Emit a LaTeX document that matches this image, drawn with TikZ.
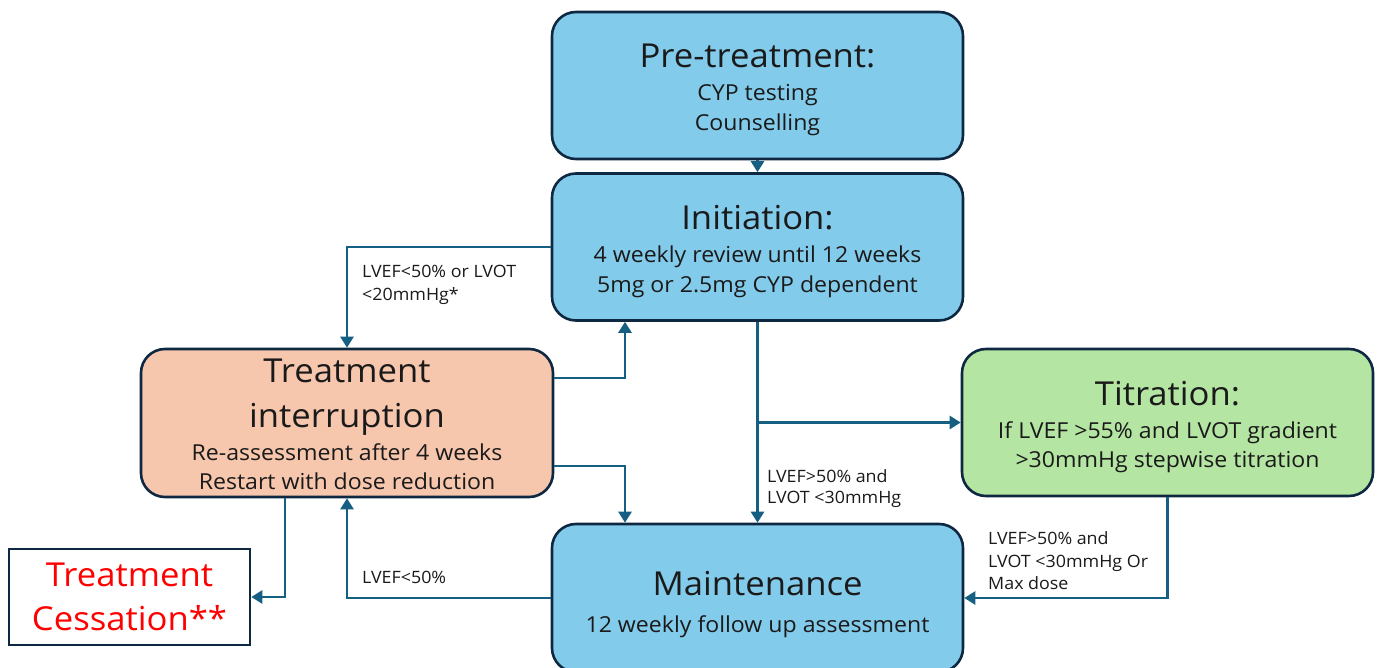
\documentclass[tikz,border=0pt]{standalone}
\usepackage{fontspec}
\setmainfont[FakeStretch=1.05]{Open Sans}
\usetikzlibrary{arrows.meta,calc}
\definecolor{bluefill}{HTML}{83CBEB}
\definecolor{orangefill}{HTML}{F6C6AD}
\definecolor{greenfill}{HTML}{B4E5A2}
\definecolor{boxline}{HTML}{0E2841}
\definecolor{arrowc}{HTML}{156082}
\definecolor{txt}{HTML}{1A1A1A}
\begin{document}
\begin{tikzpicture}[x=1pt,y=-1pt,
  box/.style={draw=boxline,line width=2.6pt,rounded corners=24pt,minimum width=411pt,minimum height=147pt,inner sep=0pt},
  conn/.style={draw=arrowc,line width=2.6pt,-{Triangle[width=13pt,length=11pt]}},
  ttl/.style={anchor=base,inner sep=0pt,text=txt,font=\fontsize{33}{36}\selectfont},
  sub/.style={anchor=base,inner sep=0pt,text=txt,font=\fontsize{22}{24}\selectfont},
  lbl/.style={anchor=base west,inner sep=0pt,text=txt,font=\fontsize{17}{18}\selectfont}]
\useasboundingbox[fill=white] (0,0) rectangle (1378,668);

% boxes
\node[box,fill=bluefill] (pre) at (757.5,85.5) {};
\node[box,fill=bluefill] (init) at (757.5,247) {};
\node[box,fill=orangefill,minimum width=412pt,minimum height=148pt] (ti) at (347,423) {};
\node[box,fill=greenfill] (tit) at (1167.5,422.5) {};
\node[box,fill=bluefill,minimum height=148pt] (maint) at (757.5,598) {};
\node[draw=boxline,line width=2.6pt,fill=white,minimum width=241pt,minimum height=96pt,inner sep=0pt] (cess) at (129.5,597) {};

% texts
\node[ttl] (preT) at (757.5,68) {Pre-treatment:};
\node[sub] (preA) at (757.5,101) {CYP testing};
\node[sub] (preB) at (757.5,131) {Counselling};

\node[ttl] (initT) at (757.5,230) {Initiation:};
\node[sub] (initA) at (757.5,263) {4 weekly review until 12 weeks};
\node[sub] (initB) at (757.5,292) {5mg or 2.5mg CYP dependent};

\node[ttl] (tiT) at (347,382) {Treatment};
\node[ttl] (tiU) at (347,427) {interruption};
\node[sub] (tiA) at (347,460) {Re-assessment after 4 weeks};
\node[sub] (tiB) at (347,489) {Restart with dose reduction};

\node[ttl] (titT) at (1167.5,405) {Titration:};
\node[sub] (titA) at (1167.5,438) {If LVEF >55\% and LVOT gradient};
\node[sub] (titB) at (1167.5,467) {>30mmHg stepwise titration};

\node[ttl] (mT) at (757.5,595) {Maintenance};
\node[sub] (mA) at (757.5,632) {12 weekly follow up assessment};

\node[ttl,text=red] (cT) at (129.5,586) {Treatment};
\node[ttl,text=red] (cU) at (129.5,630) {Cessation**};

% connectors
\draw[conn] (pre.south) -- (init.north);
\draw[conn] (init.west) -| (ti.north);
\draw[conn] ([yshift=45pt]ti.east) -| ([xshift=-132.5pt]init.south);
\draw[conn] ([yshift=-43pt]ti.east) -| ([xshift=-132.5pt]maint.north);
\draw[conn] (init.south) -- (maint.north);
\coordinate (br) at (init.south |- tit.west);
\draw[conn] (br) -- (tit.west);
\draw[conn] (tit.south) |- (maint.east);
\draw[conn] (maint.west) -| (ti.south);
\draw[conn] ([xshift=-62pt]ti.south) |- (cess.east);

% labels
\node[lbl] (l1a) at (362,277) {LVEF<50\% or LVOT};
\node[lbl] (l1b) at (362,301) {<20mmHg*};
\node[lbl] (l2a) at (767,482) {LVEF>50\% and};
\node[lbl] (l2b) at (767,503) {LVOT <30mmHg};
\node[lbl] (l3a) at (988,544) {LVEF>50\% and};
\node[lbl] (l3b) at (988,567) {LVOT <30mmHg Or};
\node[lbl] (l3c) at (988,589) {Max dose};
\node[lbl] (l4) at (362,583) {LVEF<50\%};
\end{tikzpicture}
\end{document}
